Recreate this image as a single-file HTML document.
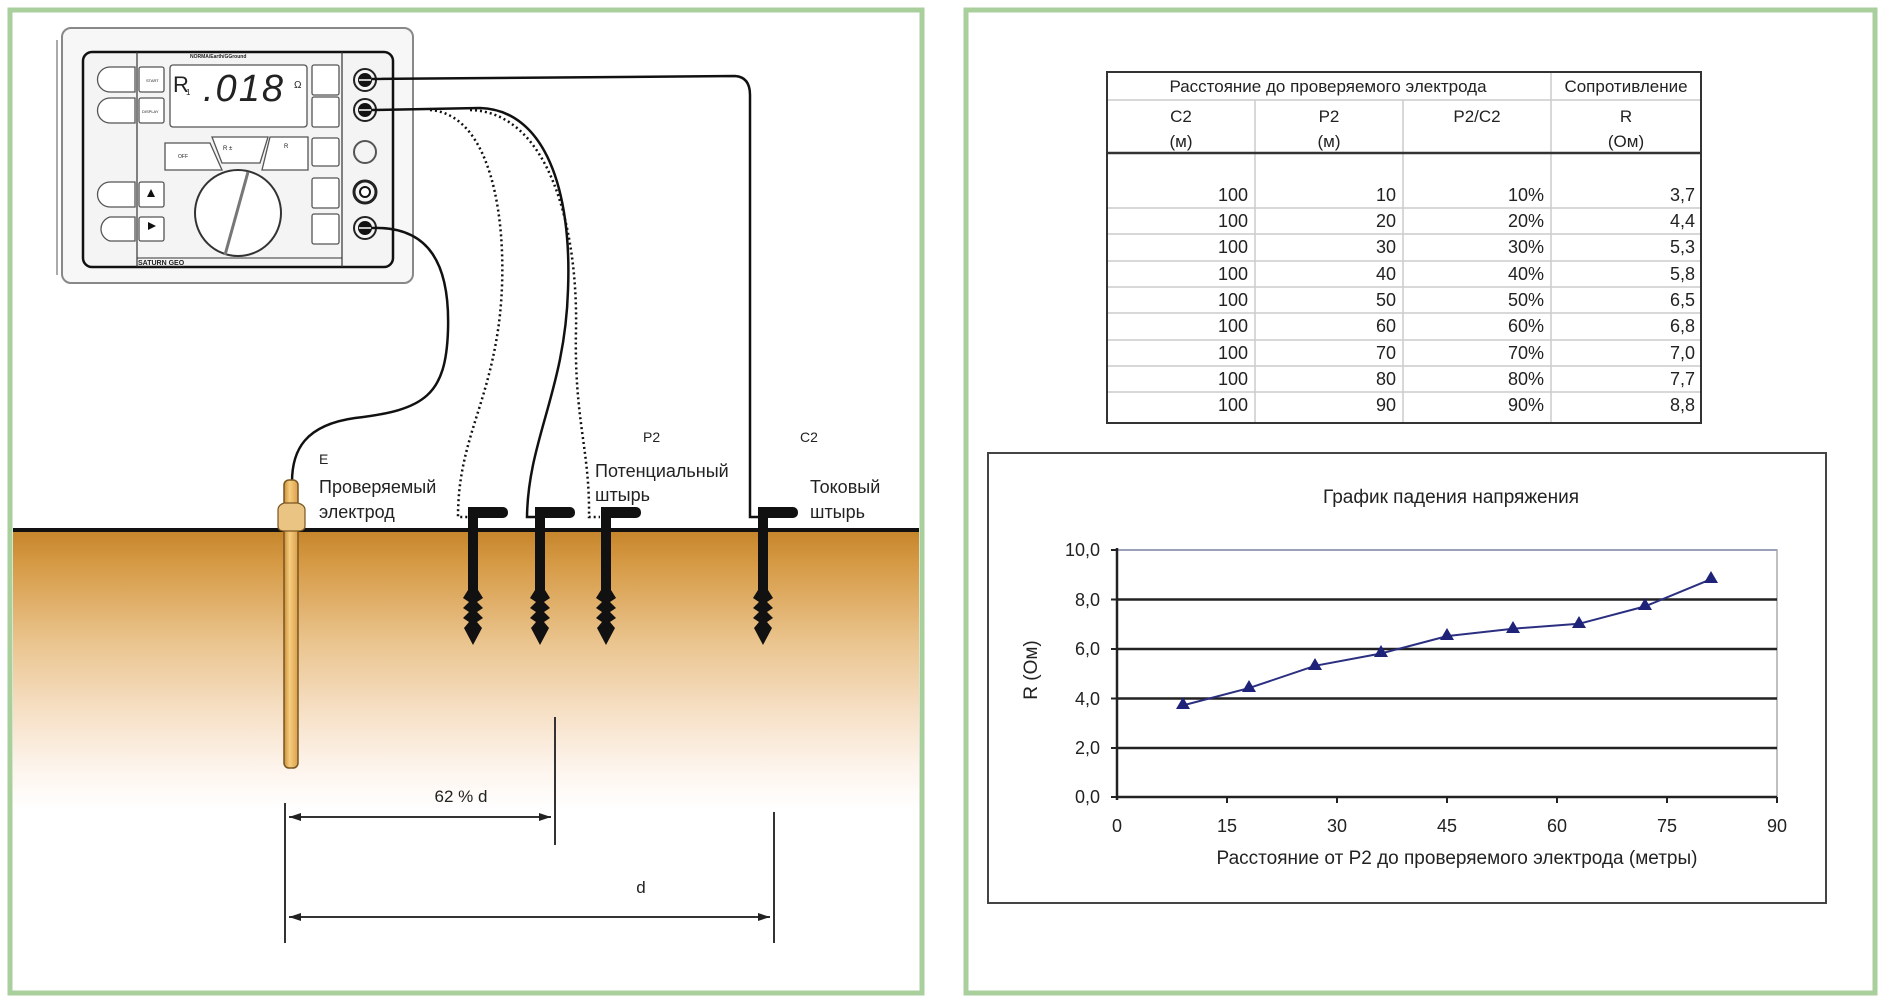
<!DOCTYPE html>
<html><head><meta charset="utf-8"><style>
html,body{margin:0;padding:0;background:#fff;}
svg{display:block;}
text{font-family:"Liberation Sans","Noto Sans CJK SC",sans-serif;fill:#222;}
</style></head><body>
<svg width="1883" height="999" viewBox="0 0 1883 999" xmlns="http://www.w3.org/2000/svg">
<defs>
<linearGradient id="soil" x1="0" y1="0" x2="0" y2="1">
<stop offset="0" stop-color="#c4842a"/>
<stop offset="0.12" stop-color="#d69a45"/>
<stop offset="0.4" stop-color="#eac48e"/>
<stop offset="0.65" stop-color="#f6e0c6"/>
<stop offset="0.85" stop-color="#fdf4ec"/>
<stop offset="1" stop-color="#ffffff"/>
</linearGradient>
<linearGradient id="rod" x1="0" y1="0" x2="1" y2="0">
<stop offset="0" stop-color="#c98e3a"/>
<stop offset="0.4" stop-color="#f6cd7e"/>
<stop offset="1" stop-color="#d9a04c"/>
</linearGradient>
<marker id="ar" markerWidth="12" markerHeight="8" refX="12" refY="4" orient="auto" markerUnits="userSpaceOnUse"><path d="M0,0 L12,4 L0,8 z" fill="#222"/></marker>
<marker id="al" markerWidth="12" markerHeight="8" refX="0" refY="4" orient="auto" markerUnits="userSpaceOnUse"><path d="M12,0 L0,4 L12,8 z" fill="#222"/></marker>
</defs>

<!-- panels -->
<rect x="10" y="10" width="912" height="983" fill="#fff" stroke="#a9cf9c" stroke-width="5"/>
<rect x="966" y="10" width="909" height="983" fill="#fff" stroke="#a9cf9c" stroke-width="5"/>

<!-- soil -->
<rect x="13" y="530" width="906" height="280" fill="url(#soil)"/>
<line x1="13" y1="530" x2="919" y2="530" stroke="#111" stroke-width="4"/>

<!-- device -->
<rect x="62" y="28" width="351" height="255" rx="9" fill="#f7f7f7" stroke="#888" stroke-width="2"/>
<line x1="57" y1="40" x2="57" y2="275" stroke="#aaa" stroke-width="2"/>
<rect x="83" y="52" width="310" height="215" rx="9" fill="#f4f4f4" stroke="#111" stroke-width="2.5"/>
<line x1="137" y1="52" x2="137" y2="267" stroke="#333" stroke-width="1.2"/>
<line x1="342" y1="52" x2="342" y2="267" stroke="#333" stroke-width="1.2"/>
<line x1="137" y1="258" x2="342" y2="258" stroke="#333" stroke-width="1"/>
<text x="190" y="58" font-size="5" font-weight="bold">NORMA/Earth/GGround</text>
<g fill="#fff" stroke="#555" stroke-width="1.3">
<path d="M135,67 H110 a12.5,12.5 0 0 0 0,25 H135 z"/>
<path d="M135,98 H110 a12.5,12.5 0 0 0 0,25 H135 z"/>
<path d="M135,182 H110 a12.5,12.5 0 0 0 0,25 H135 z"/>
<path d="M135,217 H110 a12.5,12.5 0 0 0 0,24 H135 z"/>
<rect x="139" y="67" width="25" height="25" rx="2"/>
<rect x="139" y="98" width="25" height="25" rx="2"/>
<rect x="139" y="182" width="25" height="25" rx="2"/>
<rect x="139" y="217" width="25" height="24" rx="2"/>
<rect x="170" y="65" width="137" height="62" rx="3"/>
<rect x="312" y="65" width="27" height="30" rx="2"/>
<rect x="312" y="97" width="27" height="30" rx="2"/>
<rect x="312" y="138" width="27" height="28" rx="2"/>
<rect x="312" y="178" width="27" height="30" rx="2"/>
<rect x="312" y="214" width="27" height="30" rx="2"/>
<path d="M165,143 H210 L222,170 H165 z"/>
<path d="M212,137 H268 L260,163 H222 z"/>
<path d="M270,137 H308 V170 H262 z"/>
</g>
<text x="146" y="82" font-size="4">START</text>
<text x="142" y="113" font-size="4">DISPLAY</text>
<path d="M151,189 l-4,8 h8 z" fill="#111"/>
<path d="M148,222 l8,4 l-8,4 z" fill="#111"/>
<text x="173" y="92" font-size="22" fill="#111">R</text>
<text x="186" y="95" font-size="8">1</text>
<text x="203" y="101" font-size="38" font-style="italic" fill="#111" letter-spacing="2">.018</text>
<text x="294" y="88" font-size="10">Ω</text>
<text x="178" y="158" font-size="5">OFF</text>
<text x="223" y="150" font-size="6">R ±</text>
<text x="284" y="148" font-size="6">R</text>
<circle cx="238" cy="213" r="43" fill="#fff" stroke="#333" stroke-width="2"/>
<line x1="225" y1="255" x2="248" y2="172" stroke="#777" stroke-width="3"/>
<text x="138" y="265" font-size="7" font-weight="bold" text-decoration="underline">SATURN GEO</text>
<g fill="none" stroke="#222" stroke-width="2">
<circle cx="365" cy="80" r="11"/><circle cx="365" cy="110" r="11"/>
<circle cx="365" cy="152" r="11" stroke="#555"/>
<circle cx="365" cy="192" r="11" stroke-width="3"/>
<circle cx="365" cy="228" r="11"/>
</g>
<circle cx="365" cy="80" r="7" fill="#111"/><circle cx="365" cy="110" r="7" fill="#111"/><circle cx="365" cy="228" r="7" fill="#111"/>
<circle cx="365" cy="192" r="5" fill="#fff" stroke="#111" stroke-width="2"/>
<g stroke="#fff" stroke-width="1.5"><line x1="359" y1="80" x2="371" y2="80"/><line x1="359" y1="110" x2="371" y2="110"/><line x1="359" y1="228" x2="371" y2="228"/></g>

<!-- wires -->
<g fill="none" stroke="#111" stroke-width="2.5">
<path d="M372,79 L735,76 Q750,77 750,95 L750,517 L760,517"/>
<path d="M372,110 L480,108 C545,110 572,190 568,290 C565,390 528,440 527,517 L537,517"/>
<path d="M372,228 C430,226 450,265 448,330 C446,395 425,410 355,418 C305,425 292,450 292,482"/>
</g>
<g fill="none" stroke="#111" stroke-width="2.5" stroke-dasharray="2,3">
<path d="M430,110 C500,115 510,250 498,330 C486,410 458,445 458,517 L468,517"/>
<path d="M470,110 C550,112 578,230 576,330 C574,420 590,450 589,517 L600,517"/>
</g>

<!-- electrode -->
<rect x="284" y="480" width="14" height="288" rx="5" fill="url(#rod)" stroke="#7a5520" stroke-width="1.5"/>
<path d="M278,510 Q278,505 284,503 H298 Q305,505 305,510 V526 Q305,531 298,531 H284 Q278,531 278,526 z" fill="#e9c483" stroke="#7a5520" stroke-width="1.2"/>

<!-- stakes -->
<g fill="#111">
<g transform="translate(473,0)">
<rect x="-5" y="507" width="40" height="11" rx="5"/><rect x="-5" y="507" width="10" height="85"/>
<path d="M-5,590 L-10,598 L-4,602 L-10,608 L-4,612 L-10,618 L-4,622 L-9,628 L0,645 L9,628 L4,622 L10,618 L4,612 L10,608 L4,602 L10,598 L5,590 z"/>
</g>
<g transform="translate(540,0)">
<rect x="-5" y="507" width="40" height="11" rx="5"/><rect x="-5" y="507" width="10" height="85"/>
<path d="M-5,590 L-10,598 L-4,602 L-10,608 L-4,612 L-10,618 L-4,622 L-9,628 L0,645 L9,628 L4,622 L10,618 L4,612 L10,608 L4,602 L10,598 L5,590 z"/>
</g>
<g transform="translate(606,0)">
<rect x="-5" y="507" width="40" height="11" rx="5"/><rect x="-5" y="507" width="10" height="85"/>
<path d="M-5,590 L-10,598 L-4,602 L-10,608 L-4,612 L-10,618 L-4,622 L-9,628 L0,645 L9,628 L4,622 L10,618 L4,612 L10,608 L4,602 L10,598 L5,590 z"/>
</g>
<g transform="translate(763,0)">
<rect x="-5" y="507" width="40" height="11" rx="5"/><rect x="-5" y="507" width="10" height="85"/>
<path d="M-5,590 L-10,598 L-4,602 L-10,608 L-4,612 L-10,618 L-4,622 L-9,628 L0,645 L9,628 L4,622 L10,618 L4,612 L10,608 L4,602 L10,598 L5,590 z"/>
</g>
</g>

<!-- labels left -->
<g font-size="18">
<text x="319" y="464" font-size="14">E</text>
<text x="319" y="493">Проверяемый</text>
<text x="319" y="518">электрод</text>
<text x="643" y="442" font-size="14">P2</text>
<text x="800" y="442" font-size="14">C2</text>
<text x="595" y="477">Потенциальный</text>
<text x="595" y="501">штырь</text>
<text x="810" y="493">Токовый</text>
<text x="810" y="518">штырь</text>
</g>

<!-- dimensions -->
<g stroke="#333" stroke-width="2">
<line x1="285" y1="803" x2="285" y2="943"/>
<line x1="555" y1="717" x2="555" y2="845"/>
<line x1="774" y1="812" x2="774" y2="943"/>
<line x1="289" y1="817" x2="551" y2="817" marker-start="url(#al)" marker-end="url(#ar)"/>
<line x1="289" y1="917" x2="770" y2="917" marker-start="url(#al)" marker-end="url(#ar)"/>
</g>
<text x="461" y="802" font-size="17" text-anchor="middle">62 % d</text>
<text x="641" y="893" font-size="17" text-anchor="middle">d</text>

<!-- table -->
<g stroke="#ccc" stroke-width="1.5">
<line x1="1107" y1="100" x2="1701" y2="100"/>
<line x1="1255" y1="100" x2="1255" y2="423"/>
<line x1="1403" y1="100" x2="1403" y2="423"/>
<line x1="1551" y1="72" x2="1551" y2="423"/>
<line x1="1107" y1="208" x2="1701" y2="208"/><line x1="1107" y1="234" x2="1701" y2="234"/>
<line x1="1107" y1="261" x2="1701" y2="261"/><line x1="1107" y1="287" x2="1701" y2="287"/>
<line x1="1107" y1="313" x2="1701" y2="313"/><line x1="1107" y1="340" x2="1701" y2="340"/>
<line x1="1107" y1="366" x2="1701" y2="366"/><line x1="1107" y1="392" x2="1701" y2="392"/>
</g>
<rect x="1107" y="72" width="594" height="351" fill="none" stroke="#333" stroke-width="2"/>
<line x1="1107" y1="153" x2="1701" y2="153" stroke="#333" stroke-width="2.5"/>
<g font-size="17" text-anchor="middle">
<text x="1328" y="92">Расстояние до проверяемого электрода</text>
<text x="1626" y="92">Сопротивление</text>
<text x="1181" y="122">C2</text><text x="1181" y="147">(м)</text>
<text x="1329" y="122">P2</text><text x="1329" y="147">(м)</text>
<text x="1477" y="122">P2/C2</text>
<text x="1626" y="122">R</text><text x="1626" y="147">(Ом)</text>
</g>
<g font-size="18" text-anchor="end">
<text x="1248" y="201">100</text><text x="1396" y="201">10</text><text x="1544" y="201">10%</text><text x="1695" y="201">3,7</text>
<text x="1248" y="227">100</text><text x="1396" y="227">20</text><text x="1544" y="227">20%</text><text x="1695" y="227">4,4</text>
<text x="1248" y="253">100</text><text x="1396" y="253">30</text><text x="1544" y="253">30%</text><text x="1695" y="253">5,3</text>
<text x="1248" y="280">100</text><text x="1396" y="280">40</text><text x="1544" y="280">40%</text><text x="1695" y="280">5,8</text>
<text x="1248" y="306">100</text><text x="1396" y="306">50</text><text x="1544" y="306">50%</text><text x="1695" y="306">6,5</text>
<text x="1248" y="332">100</text><text x="1396" y="332">60</text><text x="1544" y="332">60%</text><text x="1695" y="332">6,8</text>
<text x="1248" y="359">100</text><text x="1396" y="359">70</text><text x="1544" y="359">70%</text><text x="1695" y="359">7,0</text>
<text x="1248" y="385">100</text><text x="1396" y="385">80</text><text x="1544" y="385">80%</text><text x="1695" y="385">7,7</text>
<text x="1248" y="411">100</text><text x="1396" y="411">90</text><text x="1544" y="411">90%</text><text x="1695" y="411">8,8</text>
</g>

<!-- chart -->
<rect x="988" y="453" width="838" height="450" fill="#fff" stroke="#444" stroke-width="2"/>
<text x="1451" y="503" font-size="19" text-anchor="middle">График падения напряжения</text>
<rect x="1117" y="550" width="660" height="247" fill="none" stroke="#aaa" stroke-width="1.5"/>
<line x1="1117" y1="550" x2="1777" y2="550" stroke="#9aa0b8" stroke-width="2"/>
<g stroke="#222" stroke-width="2.5">
<line x1="1117" y1="599.5" x2="1777" y2="599.5"/>
<line x1="1117" y1="649" x2="1777" y2="649"/>
<line x1="1117" y1="698.5" x2="1777" y2="698.5"/>
<line x1="1117" y1="748" x2="1777" y2="748"/>
<line x1="1117" y1="797" x2="1777" y2="797"/>
<line x1="1117" y1="548" x2="1117" y2="800"/>
</g>
<g stroke="#222" stroke-width="2">
<line x1="1111" y1="550" x2="1117" y2="550"/><line x1="1111" y1="599.5" x2="1117" y2="599.5"/>
<line x1="1111" y1="649" x2="1117" y2="649"/><line x1="1111" y1="698.5" x2="1117" y2="698.5"/>
<line x1="1111" y1="748" x2="1117" y2="748"/><line x1="1111" y1="797" x2="1117" y2="797"/>
<line x1="1227" y1="797" x2="1227" y2="803"/><line x1="1337" y1="797" x2="1337" y2="803"/>
<line x1="1447" y1="797" x2="1447" y2="803"/><line x1="1557" y1="797" x2="1557" y2="803"/>
<line x1="1667" y1="797" x2="1667" y2="803"/><line x1="1777" y1="797" x2="1777" y2="803"/>
</g>
<g font-size="18" text-anchor="end">
<text x="1100" y="556">10,0</text><text x="1100" y="606">8,0</text><text x="1100" y="655">6,0</text>
<text x="1100" y="705">4,0</text><text x="1100" y="754">2,0</text><text x="1100" y="803">0,0</text>
</g>
<g font-size="18" text-anchor="middle">
<text x="1117" y="832">0</text><text x="1227" y="832">15</text><text x="1337" y="832">30</text>
<text x="1447" y="832">45</text><text x="1557" y="832">60</text><text x="1667" y="832">75</text><text x="1777" y="832">90</text>
</g>
<text x="1457" y="864" font-size="19" text-anchor="middle">Расстояние от P2 до проверяемого электрода (метры)</text>
<text transform="translate(1037,670) rotate(-90)" font-size="19" text-anchor="middle">R (Ом)</text>
<polyline fill="none" stroke="#2b2f80" stroke-width="2" points="1183,705.4 1249,688.1 1315,665.8 1381,653.5 1447,636.1 1513,628.7 1579,623.8 1645,606.4 1711,579.2"/>
<g fill="#1e2278">
<path d="M1183,697 l-7,12 h14 z"/><path d="M1249,680 l-7,12 h14 z"/><path d="M1315,658 l-7,12 h14 z"/>
<path d="M1381,645 l-7,12 h14 z"/><path d="M1447,628 l-7,12 h14 z"/><path d="M1513,621 l-7,12 h14 z"/>
<path d="M1579,616 l-7,12 h14 z"/><path d="M1645,598 l-7,12 h14 z"/><path d="M1711,571 l-7,12 h14 z"/>
</g>
</svg>
</body></html>
